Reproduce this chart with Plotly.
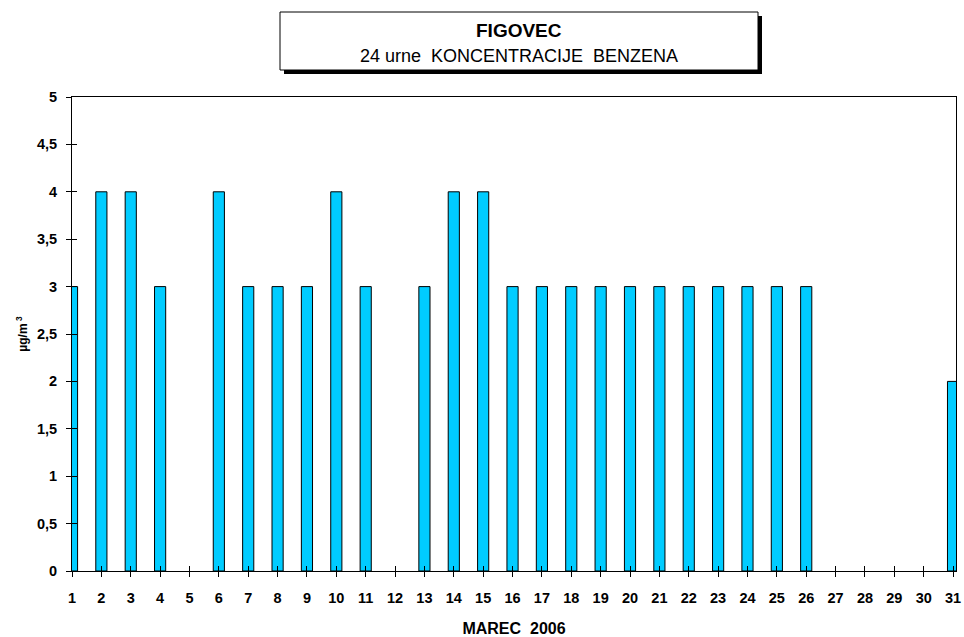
import plotly.graph_objects as go

days = list(range(1, 32))
values = [3, 4, 4, 3, None, 4, 3, 3, 3, 4, 3, None, 3, 4, 4,
          3, 3, 3, 3, 3, 3, 3, 3, 3, 3, 3, None, None, None, None, 2]
y_ticks = [0, 0.5, 1, 1.5, 2, 2.5, 3, 3.5, 4, 4.5, 5]
y_tick_labels = ["0", "0,5", "1", "1,5", "2", "2,5", "3", "3,5", "4", "4,5", "5"]
title_main = "FIGOVEC"
title_sub = "24 urne  KONCENTRACIJE  BENZENA"
x_title = "MAREC  2006"
y_title = "µg/m<sup> 3</sup>"

# the page margin is removed by a small script, so figure px = page px
W, H = 964, 637
L, R, T, B = 72, 8, 97, 66
pw, ph = W - L - R, H - T - B

def px_x(x):  # page px -> paper
    return (x - L) / pw

def px_y(y):
    return (H - B - y) / ph

font = "Liberation Sans, Arial, sans-serif"
x_range = [1, 31.1]
y_range = [0, 5]

fig = go.Figure()
fig.add_trace(go.Bar(
    x=days, y=values, width=0.38,
    marker=dict(color="#00CCFF", line=dict(color="#000000", width=1)),
    hoverinfo="x+y",
))
# invisible trace on overlay axes so the inside ticks render
fig.add_trace(go.Scatter(x=[days[0]], y=[y_ticks[0]], xaxis="x2", yaxis="y2",
                         mode="markers", marker=dict(opacity=0), hoverinfo="skip"))

fig.update_layout(
    width=W, height=H,
    margin=dict(l=L, r=R, t=T, b=B, autoexpand=False),
    paper_bgcolor="white", plot_bgcolor="white",
    showlegend=False,
    font=dict(family=font, color="#000000"),
    xaxis=dict(
        range=x_range, tickmode="array", tickvals=days,
        ticktext=[f"<b>{d}</b>" for d in days],
        ticks="outside", ticklen=5, tickcolor="#000", tickwidth=1,
        ticklabelstandoff=9, automargin=False,
        showline=True, linecolor="#000", linewidth=1, mirror=True,
        showgrid=False, zeroline=False,
        tickfont=dict(size=14.5, family=font),
        title=dict(text=f"<b>{x_title}</b>", font=dict(size=16, family=font), standoff=17),
    ),
    yaxis=dict(
        range=y_range, tickmode="array", tickvals=y_ticks,
        ticktext=[f"<b>{t}</b>" for t in y_tick_labels],
        ticks="outside", ticklen=5, tickcolor="#000", tickwidth=1,
        ticklabelstandoff=6, automargin=False,
        showline=True, linecolor="#000", linewidth=1, mirror=True,
        showgrid=False, zeroline=False,
        tickfont=dict(size=14.5, family=font),
        title=dict(text=f"<b>{y_title}</b>", font=dict(size=12, family=font), standoff=6),
    ),
    xaxis2=dict(overlaying="x", anchor="y", range=x_range, tickmode="array",
                tickvals=days, showticklabels=False, ticks="inside", ticklen=5,
                tickcolor="#000", showgrid=False, zeroline=False, showline=False,
                side="bottom", automargin=False),
    yaxis2=dict(overlaying="y", anchor="x", range=y_range, tickmode="array",
                tickvals=y_ticks, showticklabels=False, ticks="inside", ticklen=5,
                tickcolor="#000", showgrid=False, zeroline=False, showline=False,
                side="left", automargin=False),
)

# title box with shadow (page pixel coordinates)
bx0, bx1, by0, by1 = 280, 758, 12, 70
fig.add_shape(type="rect", xref="paper", yref="paper",
              x0=px_x(bx0 + 4), x1=px_x(bx1 + 4), y0=px_y(by1 + 4), y1=px_y(by0 + 4),
              fillcolor="#000000", line=dict(width=0), layer="above")
fig.add_shape(type="rect", xref="paper", yref="paper",
              x0=px_x(bx0), x1=px_x(bx1), y0=px_y(by1), y1=px_y(by0),
              fillcolor="white", line=dict(color="#000", width=1), layer="above")
cx = (bx0 + bx1) / 2
fig.add_annotation(xref="paper", yref="paper", x=px_x(cx), y=px_y(30),
                   text=f"<b>{title_main}</b>", showarrow=False,
                   font=dict(size=19, family=font), xanchor="center", yanchor="middle")
fig.add_annotation(xref="paper", yref="paper", x=px_x(cx), y=px_y(56),
                   text=title_sub, showarrow=False,
                   font=dict(size=18, family=font), xanchor="center", yanchor="middle")

fig.write_html(
    "out.html",
    config={"displayModeBar": False},
    post_script="document.body.style.margin='0px';document.body.style.overflow='hidden';"
                "document.documentElement.style.overflow='hidden';",
)
